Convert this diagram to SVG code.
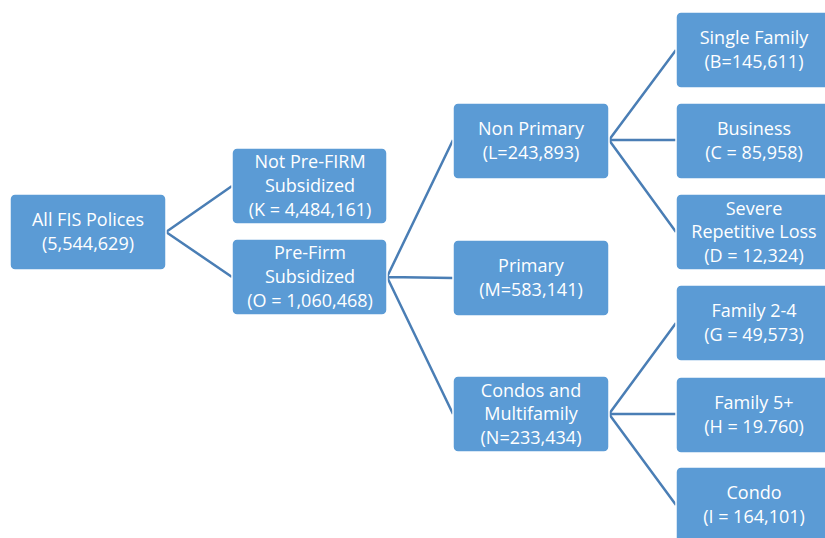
<svg xmlns="http://www.w3.org/2000/svg" width="825" height="538" viewBox="0 0 825 538">
<style>
.box{fill:#5B9BD5;stroke:#FFFFFF;stroke-width:1.5}
.t{font-family:"Open Sans","Liberation Sans",sans-serif;font-size:18px;fill:#FFFFFF;text-anchor:middle}
.c{stroke:#4A7EB5;stroke-width:2.5;fill:none}
</style>
<rect width="825" height="538" fill="#FFFFFF"/>
<g id="connectors">
<path class="c" d="M166,232 L232,186 M166,232 L232,277"/>
<path class="c" d="M387,277 L453,140 M387,277 L453,278 M387,277 L453,414"/>
<path class="c" d="M609,140 L676,50 M609,140 L676,140 M609,140 L676,232"/>
<path class="c" d="M609,414 L676,323 M609,414 L676,414 M609,414 L676,505"/>
</g>
<g id="root"><rect class="box" x="10" y="194" width="156" height="76" rx="5"/>
<text class="t" x="88" y="226">All FIS Polices</text><text class="t" x="88" y="250">(5,544,629)</text></g>
<g id="notprefirm"><rect class="box" x="232" y="148" width="155" height="76" rx="5"/>
<text class="t" x="310" y="168">Not Pre-FIRM</text><text class="t" x="310" y="192">Subsidized</text><text class="t" x="310" y="216">(K = 4,484,161)</text></g>
<g id="prefirm"><rect class="box" x="232" y="239" width="155" height="76" rx="5"/>
<text class="t" x="310" y="259">Pre-Firm</text><text class="t" x="310" y="283">Subsidized</text><text class="t" x="310" y="307">(O = 1,060,468)</text></g>
<g id="nonprimary"><rect class="box" x="453" y="103" width="156" height="76" rx="5"/>
<text class="t" x="531" y="135">Non Primary</text><text class="t" x="531" y="159">(L=243,893)</text></g>
<g id="primary"><rect class="box" x="453" y="240" width="156" height="76" rx="5"/>
<text class="t" x="531" y="272">Primary</text><text class="t" x="531" y="296">(M=583,141)</text></g>
<g id="condosmulti"><rect class="box" x="453" y="376" width="156" height="76" rx="5"/>
<text class="t" x="531" y="397">Condos and</text><text class="t" x="531" y="420">Multifamily</text><text class="t" x="531" y="444">(N=233,434)</text></g>
<g id="singlefamily"><rect class="box" x="676" y="12" width="156" height="76" rx="5"/>
<text class="t" x="754" y="44">Single Family</text><text class="t" x="754" y="68">(B=145,611)</text></g>
<g id="business"><rect class="box" x="676" y="103" width="156" height="76" rx="5"/>
<text class="t" x="754" y="135">Business</text><text class="t" x="754" y="159">(C = 85,958)</text></g>
<g id="severe"><rect class="box" x="676" y="194" width="156" height="76" rx="5"/>
<text class="t" x="754" y="215">Severe</text><text class="t" x="754" y="238">Repetitive Loss</text><text class="t" x="754" y="262">(D = 12,324)</text></g>
<g id="family24"><rect class="box" x="676" y="285" width="156" height="76" rx="5"/>
<text class="t" x="754" y="317">Family 2-4</text><text class="t" x="754" y="341">(G = 49,573)</text></g>
<g id="family5"><rect class="box" x="676" y="377" width="156" height="76" rx="5"/>
<text class="t" x="754" y="409">Family 5+</text><text class="t" x="754" y="433">(H = 19.760)</text></g>
<g id="condo"><rect class="box" x="676" y="467" width="156" height="76" rx="5"/>
<text class="t" x="754" y="499">Condo</text><text class="t" x="754" y="523">(I = 164,101)</text></g>
</svg>
